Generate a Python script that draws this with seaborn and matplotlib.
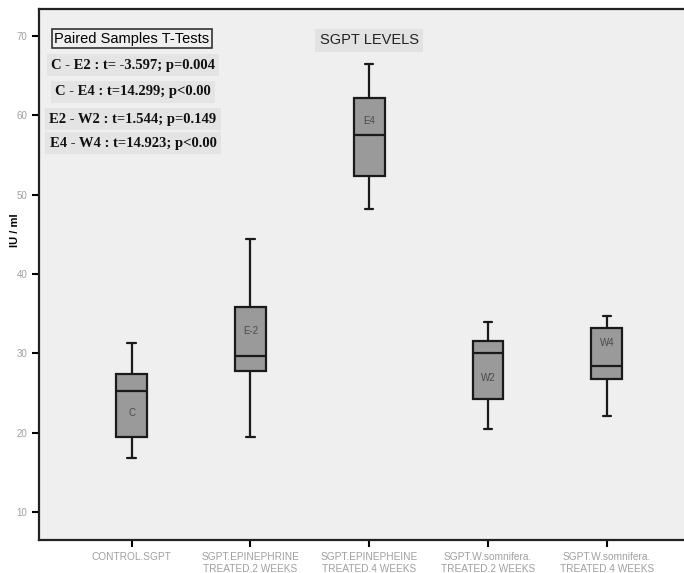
import numpy as np
import pandas as pd
import matplotlib
matplotlib.use("Agg")
import matplotlib.pyplot as plt
import seaborn as sns

categories = ["CONTROL.SGPT", "SGPT.EPINEPHRINE\nTREATED.2 WEEKS", "SGPT.EPINEPHEINE\nTREATED.4 WEEKS",
              "SGPT.W.somnifera.\nTREATED.2 WEEKS", "SGPT.W.somnifera.\nTREATED.4 WEEKS"]
box_tags = ["C", "E-2", "E4", "W2", "W4"]
whisker_low = [16.85, 19.45, 48.2, 20.4, 22.1]
q1 = [19.4, 27.8, 52.4, 24.2, 26.8]
median = [25.2, 29.7, 57.5, 30.0, 28.45]
q3 = [27.4, 35.8, 62.2, 31.5, 33.2]
whisker_high = [31.35, 44.4, 66.45, 33.9, 34.7]
tag_y = [22.5, 32.8, 59.3, 26.9, 31.3]
yticks = [10, 20, 30, 40, 50, 60, 70]
stats_lines = ["C - E2 : t= -3.597; p=0.004", "C - E4 : t=14.299; p<0.00",
               "E2 - W2 : t=1.544; p=0.149", "E4 - W4 : t=14.923; p<0.00"]

rows = []
for c, lo, a, m, b, hi in zip(categories, whisker_low, q1, median, q3, whisker_high):
    for v in (lo, a, m, b, hi):
        rows.append({"group": c, "value": v})
df = pd.DataFrame(rows)

sns.set_theme(style="white")
plt.rcParams["font.family"] = ["Liberation Sans", "DejaVu Sans"]

fig = plt.figure(figsize=(6.84, 5.73), dpi=100)
ax = fig.add_axes([39/684, 1-540/573, 1-39/684, 531/573])
ax.set_facecolor("#efefef")

sns.boxplot(data=df, x="group", y="value", order=categories, whis=(0, 100),
            width=0.26, color="#9a9a9a", linecolor="#1a1a1a", linewidth=1.6,
            saturation=1, showfliers=False, capwidths=0.07, ax=ax)

for i, (t, y) in enumerate(zip(box_tags, tag_y)):
    ax.text(i, y, t, ha="center", va="center", fontsize=7, color="#4a4a4a")

ax.set_xlim(-0.78, 4.65)
ax.set_ylim(6.45, 73.4)
ax.set_yticks(yticks)
ax.set_xlabel("")
ax.set_ylabel("IU / ml", fontsize=8, fontweight="bold", color="black")
ax.yaxis.set_label_coords(-0.03, 0.584)
ax.tick_params(axis="both", direction="out", length=5, width=1.5, color="black",
               labelsize=7, labelcolor="#a0a0a0", bottom=True, left=True)
for lab in ax.get_xticklabels():
    lab.set_fontsize(7.3)
    lab.set_linespacing(1.3)
for s in ["left", "bottom", "top"]:
    ax.spines[s].set_color("#222222")
    ax.spines[s].set_linewidth(1.6)
ax.spines["right"].set_visible(False)

ax.text(369/684, 1-40.5/573, "SGPT LEVELS", transform=fig.transFigure, ha="center", va="center",
        fontsize=10.5, color="#222222",
        bbox=dict(boxstyle="square,pad=0.3", facecolor="#e2e2e2", edgecolor="none"))

ax.text(132/684, 1-38.5/573, "Paired Samples T-Tests", transform=fig.transFigure, ha="center", va="center",
        fontsize=10.5, color="black",
        bbox=dict(boxstyle="square,pad=0.2", facecolor="#efefef", edgecolor="#333333", linewidth=1.2))

for txt, yp in zip(stats_lines, [65, 92, 119, 143]):
    ax.text(133/684, 1-yp/573, txt, transform=fig.transFigure, ha="center", va="center",
            fontsize=10.5, fontweight="bold", color="#111111", family=["Liberation Serif", "DejaVu Serif"],
            bbox=dict(boxstyle="square,pad=0.3", facecolor="#e4e4e4", edgecolor="none"))

fig.savefig("out.png", dpi=100, facecolor="white")
